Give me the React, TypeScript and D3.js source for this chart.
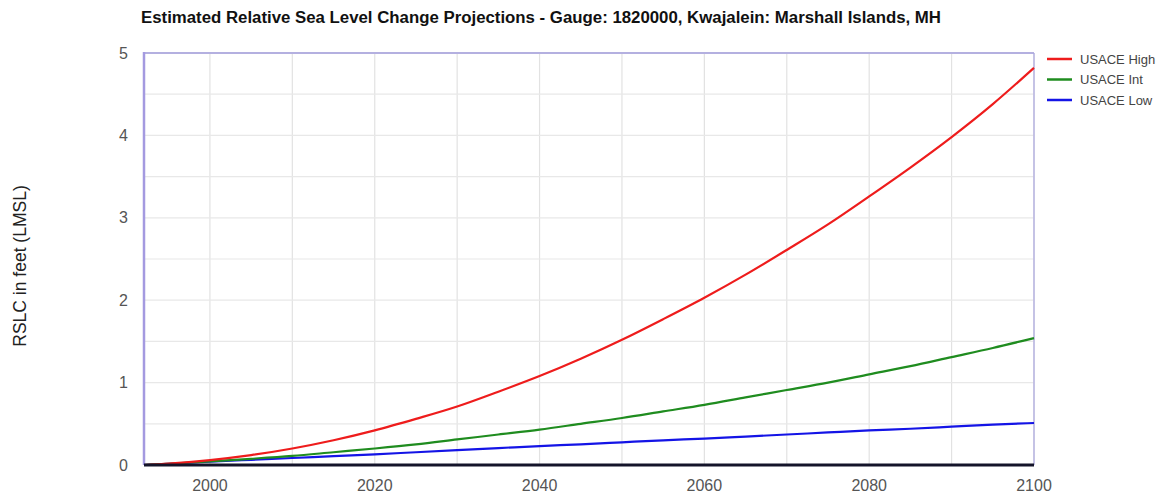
import React from "react";
import * as d3 from "d3";

// Projection years (every 5 years from the 1992 epoch to 2100)
const years = [1992, 1995, 2000, 2005, 2010, 2015, 2020, 2025, 2030, 2035, 2040, 2045, 2050, 2055, 2060, 2065, 2070, 2075, 2080, 2085, 2090, 2095, 2100];

// Relative sea level change in feet for each scenario
const usaceHigh = [0, 0.017, 0.06, 0.12, 0.2, 0.3, 0.42, 0.56, 0.71, 0.89, 1.08, 1.29, 1.52, 1.77, 2.03, 2.31, 2.61, 2.92, 3.26, 3.61, 3.98, 4.38, 4.82];
const usaceInt = [0, 0.015, 0.044, 0.075, 0.11, 0.155, 0.2, 0.25, 0.31, 0.37, 0.43, 0.5, 0.57, 0.65, 0.73, 0.82, 0.91, 1.0, 1.1, 1.2, 1.31, 1.42, 1.54];
const usaceLow = [0, 0.014, 0.04, 0.063, 0.085, 0.108, 0.13, 0.155, 0.18, 0.205, 0.23, 0.25, 0.275, 0.3, 0.32, 0.345, 0.37, 0.395, 0.42, 0.44, 0.465, 0.49, 0.51];

const xTicks = [2000, 2020, 2040, 2060, 2080, 2100];
const yTicks = [0, 1, 2, 3, 4, 5];

const seriesNames = ["USACE High", "USACE Int", "USACE Low"];
const seriesColors = ["#ee1c1c", "#1f8c1f", "#1414e6"];

const W = 1164;
const H = 497;
const plot = { left: 144, right: 1034, top: 53, bottom: 465 };
const font = "Arial, 'Liberation Sans', sans-serif";

export default function App() {
  const x = d3.scaleLinear().domain([1992, 2100]).range([plot.left, plot.right]);
  const y = d3.scaleLinear().domain([0, 5]).range([plot.bottom, plot.top]);

  const seriesValues = [usaceHigh, usaceInt, usaceLow];
  const line = d3
    .line<[number, number]>()
    .x((d) => x(d[0]))
    .y((d) => y(d[1]))
    .curve(d3.curveMonotoneX);

  const vGrid = d3.range(2000, 2101, 10);
  const hGrid = d3.range(0.5, 5.01, 0.5);

  return (
    <svg
      width={W}
      height={H}
      style={{ position: "absolute", left: 0, top: 0, background: "#fff" }}
      fontFamily={font}
    >
      <text
        x={541}
        y={23}
        textAnchor="middle"
        fontSize={16}
        fontWeight="bold"
        fill="#111"
        textLength={800}
        lengthAdjust="spacingAndGlyphs"
      >
        Estimated Relative Sea Level Change Projections - Gauge: 1820000, Kwajalein: Marshall Islands, MH
      </text>

      {/* grid */}
      {vGrid.map((v) => (
        <line key={"v" + v} x1={x(v)} x2={x(v)} y1={plot.top} y2={plot.bottom} stroke="#e2e2e2" strokeWidth={1.2} />
      ))}
      {hGrid.map((v) => (
        <line key={"h" + v} x1={plot.left} x2={plot.right} y1={y(v)} y2={y(v)} stroke="#e8e8e8" strokeWidth={1.2} />
      ))}

      {/* frame */}
      <line x1={plot.left} x2={plot.right} y1={plot.top} y2={plot.top} stroke="#b4b0e0" strokeWidth={2} />
      <line x1={plot.right} x2={plot.right} y1={plot.top} y2={plot.bottom} stroke="#aaa6e0" strokeWidth={1.2} />
      <line x1={plot.left} x2={plot.left} y1={plot.top - 1} y2={plot.bottom} stroke="#a49ae0" strokeWidth={2.5} />

      {/* series */}
      {seriesValues
        .map((vals, i) => ({ vals, i }))
        .reverse()
        .map(({ vals, i }) => (
          <path
            key={seriesNames[i]}
            d={line(years.map((yr, k) => [yr, vals[k]] as [number, number])) || ""}
            fill="none"
            stroke={seriesColors[i]}
            strokeWidth={2.2}
          />
        ))}

      {/* zero baseline */}
      <line x1={plot.left} x2={plot.right} y1={y(0)} y2={y(0)} stroke="#14142a" strokeWidth={3} />

      {/* y ticks */}
      {yTicks.map((t) => (
        <text key={"yt" + t} x={128} y={y(t) + 5.5} textAnchor="end" fontSize={16} fill="#555">
          {t}
        </text>
      ))}
      {/* x ticks */}
      {xTicks.map((t) => (
        <text key={"xt" + t} x={x(t)} y={491} textAnchor="middle" fontSize={16} fill="#555">
          {t}
        </text>
      ))}

      <text
        transform={`translate(26, ${266}) rotate(-90)`}
        textAnchor="middle"
        fontSize={17.5}
        fill="#222"
      >
        RSLC in feet (LMSL)
      </text>

      {/* legend */}
      {seriesNames.map((name, i) => (
        <g key={name} transform={`translate(1047, ${59 + i * 20.5})`}>
          <line x1={0} x2={25} y1={0} y2={0} stroke={seriesColors[i]} strokeWidth={2.5} />
          <text x={33} y={4.5} fontSize={13} fill="#444">
            {name}
          </text>
        </g>
      ))}
    </svg>
  );
}
